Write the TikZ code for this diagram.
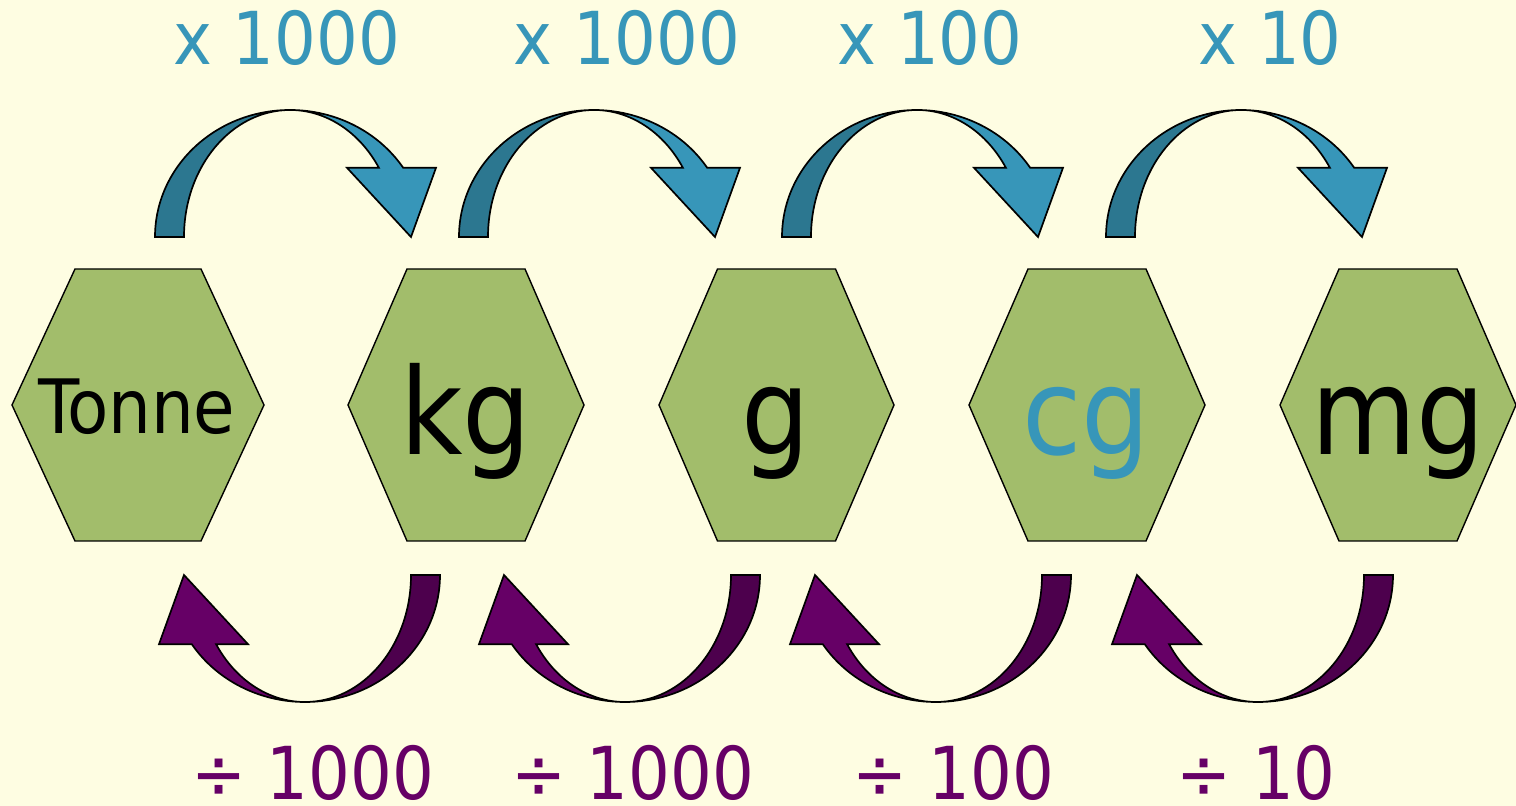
\documentclass[tikz,border=0pt]{standalone}
\usepackage{fontspec}
\setmainfont{DejaVu Sans Condensed}
\usetikzlibrary{positioning}
\definecolor{paper}{HTML}{FEFDE2}
\definecolor{hexgreen}{HTML}{A2BD6B}
\definecolor{upblue}{HTML}{3796B9}
\definecolor{updark}{HTML}{2C7790}
\definecolor{downpurple}{HTML}{660066}
\definecolor{downdark}{HTML}{4D004D}

% bent block arrow, centre of its arc at the origin, head on the right
\newcommand{\bentarrow}[2]{%
    \filldraw[fill=#1, draw=black, line width=1.7pt]
        (-135,0) arc[start angle=180, end angle=90, x radius=135pt, y radius=127pt]
        arc[start angle=90, end angle=180, x radius=106pt, y radius=127pt] -- cycle;
    \filldraw[fill=#2, draw=black, line width=1.7pt]
        (0,127) arc[start angle=90, end angle=33, x radius=135pt, y radius=127pt]
        -- (146,69.2) -- (121,0) -- (57,69.2) -- (88.9,69.2)
        arc[start angle=33, end angle=90, x radius=106pt, y radius=127pt] -- cycle;
}

\begin{document}
\begin{tikzpicture}[x=1pt, y=1pt,
    hexbox/.style={fill=hexgreen, draw=black, line width=1.4pt},
    unitlabel/.style={anchor=base, inner sep=0pt, font=\fontsize{120}{120}\selectfont},
    uplabel/.style={anchor=base, inner sep=0pt, text=upblue, font=\fontsize{73}{80}\selectfont},
    downlabel/.style={anchor=base, inner sep=0pt, text depth=0pt, text=downpurple, font=\fontsize{73}{80}\selectfont}]
    \fill[paper] (0,0) rectangle (1516,806);
    \useasboundingbox (0,0) rectangle (1516,806);

    % hexagons
    \foreach \cx/\hw/\tw in {138/126/63, 466/118/59, 776.5/117.5/59, 1087/118/59, 1398/118/59} {
        \filldraw[hexbox] (\cx-\hw,401) -- (\cx-\tw,537) -- (\cx+\tw,537)
            -- (\cx+\hw,401) -- (\cx+\tw,265) -- (\cx-\tw,265) -- cycle;
    }
    \node[unitlabel, font=\fontsize{75}{75}\selectfont] (tonne) at (137,372) {Tonne};
    \node[unitlabel] (kg) at (466,351) {kg};
    \node[unitlabel] (g) at (776,351) {g};
    \node[unitlabel, text=upblue] (cg) at (1086,351) {cg};
    \node[unitlabel] (mg) at (1398,351) {mg};

    % multiply arrows
    \foreach \cx in {290, 594, 917, 1241} {
        \begin{scope}[shift={(\cx,569)}]
            \bentarrow{updark}{upblue}
        \end{scope}
    }
    % divide arrows
    \foreach \cx in {305, 625, 936, 1258} {
        \begin{scope}[shift={(\cx,231)}, rotate=180]
            \bentarrow{downdark}{downpurple}
        \end{scope}
    }

    \node[uplabel] (times1) at (286.5,741) {x 1000};
    \node[uplabel] (times2) at (627,741) {x 1000};
    \node[uplabel] (times3) at (930,741) {x 100};
    \node[uplabel] (times4) at (1270,741) {x 10};

    \node[downlabel] (div1) at (312.5,6) {÷ 1000};
    \node[downlabel] (div2) at (632.5,6) {÷ 1000};
    \node[downlabel] (div3) at (953.5,6) {÷ 100};
    \node[downlabel] (div4) at (1256,6) {÷ 10};
\end{tikzpicture}
\end{document}
